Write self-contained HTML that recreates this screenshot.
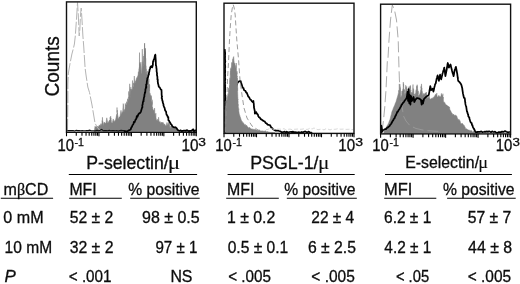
<!DOCTYPE html>
<html><head><meta charset="utf-8"><style>
html,body{margin:0;padding:0;background:#fff;}
svg{display:block;will-change:transform;}
text{font-family:"Liberation Sans", sans-serif;fill:#0d0d0d;stroke:#0d0d0d;stroke-width:0.3px;}
</style></head><body>
<svg width="520" height="284" viewBox="0 0 520 284">
<rect width="520" height="284" fill="#fff"/>
<g><polygon points="94.0,131.5 94.2,130.6 94.5,129.8 94.8,127.7 95.0,126.3 95.5,127.0 96.0,126.7 97.0,126.2 98.0,126.8 98.7,126.5 99.3,124.9 100.0,126.1 101.0,123.6 101.9,125.4 102.0,121.7 102.1,120.6 102.3,121.6 102.4,117.3 102.5,117.6 102.6,120.5 102.7,120.7 102.8,121.2 103.0,123.1 103.1,123.1 103.2,126.0 104.1,122.1 105.1,123.3 106.0,122.9 106.8,117.8 107.7,122.9 108.5,122.1 109.3,120.6 109.5,120.1 109.7,120.1 109.9,121.0 110.1,117.3 110.3,118.6 110.5,117.1 110.7,116.1 110.8,118.9 110.9,117.9 111.0,118.8 111.2,119.7 111.3,120.2 111.4,121.8 111.5,122.5 112.3,122.9 113.2,118.9 114.0,121.4 114.9,120.9 115.7,119.3 116.6,114.8 116.7,114.3 116.8,117.4 116.8,117.4 116.9,115.9 117.0,115.1 117.0,107.5 117.1,112.4 117.2,111.5 117.3,110.2 117.4,114.5 117.5,113.1 117.6,114.7 117.7,116.8 117.8,115.7 117.9,117.5 118.0,119.0 118.5,118.2 119.0,117.1 119.5,116.9 120.0,116.4 120.5,113.5 121.0,110.3 121.5,114.8 122.0,112.4 122.5,111.9 122.8,110.4 123.2,103.6 123.5,104.9 123.6,108.5 123.8,111.7 123.9,111.6 124.1,112.0 124.2,110.7 124.4,111.6 124.5,110.2 124.7,109.3 124.8,111.1 125.0,109.2 125.2,106.2 125.3,103.4 125.5,105.6 125.9,104.7 126.2,105.2 126.6,101.7 127.0,103.7 127.3,101.7 127.6,99.0 127.8,98.7 128.1,100.8 128.4,97.4 128.6,98.0 128.7,91.4 128.9,94.5 129.0,94.8 129.2,94.6 129.5,91.2 129.7,83.8 130.0,98.4 130.2,93.6 130.4,89.1 130.6,96.1 130.8,87.1 131.0,90.7 131.2,89.4 131.4,90.4 131.7,89.9 132.0,88.9 132.2,90.2 132.5,80.5 132.8,86.3 133.2,87.2 133.6,82.9 133.9,85.0 134.3,76.0 134.7,83.4 135.1,83.1 135.4,80.8 135.8,81.5 136.3,78.8 136.8,77.6 137.3,77.5 137.5,76.4 137.7,76.0 137.9,75.6 138.2,74.2 138.4,71.7 138.6,74.5 138.8,72.2 138.9,69.3 139.0,69.3 139.1,69.5 139.2,67.7 139.3,67.7 139.4,68.6 139.5,52.6 139.6,68.6 139.7,62.5 139.8,65.8 139.9,68.4 140.0,63.8 140.1,69.8 140.2,69.7 140.9,62.1 141.7,74.2 142.0,72.6 142.3,49.1 142.7,71.1 143.0,61.5 143.2,65.3 143.4,63.1 143.6,56.0 143.8,66.6 144.0,65.4 144.1,64.8 144.1,64.3 144.2,63.9 144.2,62.0 144.2,60.6 144.3,54.2 144.3,61.6 144.4,50.7 144.4,48.4 144.5,57.1 144.5,43.8 144.6,56.5 144.6,43.0 144.7,53.9 144.8,53.1 144.8,55.8 144.8,56.3 144.9,58.7 144.9,51.0 145.0,51.5 145.1,58.7 145.1,58.7 145.2,56.9 145.2,49.2 145.2,63.9 145.3,57.4 145.3,51.8 145.4,66.1 145.5,48.2 145.5,64.7 145.6,67.5 145.6,69.7 145.7,58.3 145.7,70.8 145.8,65.8 145.8,71.2 145.9,73.1 145.9,72.1 146.0,74.6 146.0,70.2 146.1,68.8 146.6,74.0 147.0,74.3 147.2,76.1 147.4,70.9 147.6,77.1 147.9,77.0 148.1,78.3 148.3,79.0 148.5,79.8 148.6,80.2 148.7,81.6 148.7,82.2 148.8,80.6 148.9,78.9 149.0,84.2 149.1,84.3 149.2,86.3 149.2,88.0 149.3,84.2 149.4,89.9 149.5,91.0 149.6,84.7 149.6,89.8 149.7,92.5 149.8,92.6 149.9,94.7 150.0,93.3 150.1,96.6 150.1,95.5 150.2,94.7 150.3,97.5 151.0,95.2 151.1,98.2 151.3,99.6 151.4,96.2 151.5,101.7 151.7,101.5 151.8,104.7 151.9,101.6 152.0,104.4 152.2,99.7 152.3,107.8 152.4,107.0 152.6,107.8 152.7,107.9 153.2,110.4 153.6,109.8 154.1,110.9 154.6,108.1 154.8,112.3 155.0,115.0 155.2,114.2 155.4,116.3 155.6,117.5 155.8,113.1 156.0,117.9 156.2,118.5 156.4,120.4 157.0,119.6 157.5,119.4 158.1,121.4 158.6,117.2 159.2,122.3 160.0,121.4 160.8,123.4 161.6,122.0 162.3,122.8 163.1,122.3 163.9,124.5 164.7,124.0 165.5,125.8 166.2,125.4 167.0,122.4 167.8,125.5 168.6,122.7 169.3,121.8 170.1,128.8 170.8,125.9 171.6,126.9 172.3,127.2 173.1,127.5 173.8,128.3 174.6,127.3 175.5,126.7 176.3,129.2 177.2,130.1 178.0,130.5 178.8,130.6 179.6,130.7 180.4,130.8 181.2,130.9 182.0,131.0 182.8,131.0 183.7,131.0 184.5,131.0 185.4,131.1 186.2,131.1 187.1,131.1 187.9,131.1 188.8,131.1 189.6,131.1 190.4,131.1 191.3,131.1 192.1,131.1 193.0,131.2 193.8,131.2 194.7,131.2 195.5,131.2" fill="#818181" stroke="#818181" stroke-width="0.5"/><polyline points="67.5,131.0 67.9,100.0 67.9,84.0 68.4,73.0 70.2,62.6 71.9,54.0 73.5,48.0 74.4,44.0 75.3,36.0 76.5,19.0 77.5,2.5 78.3,15.0 79.2,36.0 79.8,30.0 80.5,15.0 81.2,8.0 82.0,20.0 82.9,36.0 83.7,46.0 85.1,68.0 86.0,75.0 87.8,87.0 89.5,92.5 92.0,105.0 95.0,123.0 97.0,127.0 100.0,130.5" fill="none" stroke="#b4b4b4" stroke-width="1" stroke-dasharray="12 2"/><polyline points="124.0,131.9 125.1,131.2 126.4,131.3 127.7,131.2 128.6,130.4 129.7,130.1 130.7,129.5 130.9,128.6 131.5,127.2 131.9,126.9 132.5,125.2 133.2,124.5 133.6,123.5 133.8,122.0 134.5,122.4 135.0,121.1 135.3,120.1 135.9,119.4 136.4,118.5 136.8,116.1 137.5,116.7 138.1,115.0 138.6,114.0 139.2,113.4 139.8,113.1 140.5,112.3 141.0,111.3 141.5,109.5 141.9,108.4 142.1,107.4 142.4,107.2 142.3,105.2 142.7,104.3 142.8,102.8 143.2,101.2 143.6,101.2 143.4,100.2 143.7,99.9 143.8,98.2 144.2,96.8 144.4,96.6 144.4,94.9 144.8,93.6 144.9,92.3 145.2,92.6 145.4,90.5 145.4,89.6 145.8,88.3 145.8,88.8 146.0,86.6 146.3,87.3 146.1,84.7 146.7,83.7 146.7,83.9 146.8,81.7 147.1,80.1 147.3,79.5 147.3,78.1 147.7,78.1 148.0,77.3 148.4,75.3 148.4,75.2 148.9,74.7 148.9,73.2 149.3,71.5 149.4,71.4 149.6,69.5 150.2,68.8 150.3,67.1 150.8,67.2 150.9,66.3 151.4,66.3 152.1,67.4 152.5,66.6 152.4,65.6 152.9,65.1 152.9,63.3 153.1,61.2 153.4,61.5 153.8,59.4 154.1,59.2 154.4,58.4 154.7,56.7 154.9,55.6 155.1,55.3 155.3,54.7 155.5,55.8 155.4,56.4 155.5,57.0 155.6,58.3 155.8,61.0 155.7,60.9 155.8,61.2 155.8,62.7 155.9,64.5 155.8,65.3 156.2,65.8 156.3,66.9 156.4,68.0 156.3,68.0 156.6,68.8 156.6,71.2 156.7,71.6 157.1,73.9 157.1,74.0 156.9,74.2 157.1,75.8 157.4,76.7 157.4,79.5 157.6,79.0 157.8,80.0 157.7,81.9 157.9,82.1 157.9,83.2 157.9,83.1 158.6,85.4 158.6,86.2 159.1,87.1 159.8,87.5 160.7,89.4 161.5,90.0 161.5,90.7 161.6,92.1 161.6,93.1 161.6,94.1 161.8,96.3 162.1,96.4 161.6,98.0 162.0,98.6 162.3,100.3 162.3,100.8 162.7,101.0 162.8,102.7 163.1,103.3 163.5,104.6 163.5,105.5 164.2,107.3 164.5,107.6 164.8,108.9 165.0,110.0 165.6,111.1 166.0,111.4 166.4,113.9 166.6,114.9 166.8,114.8 167.3,115.6 167.7,117.0 168.3,117.1 168.4,120.3 168.9,120.5 169.2,121.3 169.7,122.1 170.4,123.1 170.9,124.1 171.7,124.9 172.2,126.1 173.0,126.9 174.2,127.4 175.5,127.3 176.5,128.1 176.8,128.5 177.5,129.7 178.4,130.5 179.7,130.9 180.5,130.3 181.6,131.1 182.8,130.8 183.7,130.7 184.9,130.6 185.9,130.8 186.8,130.1 188.0,130.7 188.9,131.2 189.9,130.9 191.2,130.9 192.1,130.2 193.1,129.3 194.0,131.4 195.1,130.3 196.0,131.0" fill="none" stroke="#000" stroke-width="1.75" stroke-linejoin="round"/></g><polyline points="67.2,130.7 68.7,130.6 70.2,130.5 71.7,130.6 73.2,130.6 74.7,131.0 76.2,130.3 77.7,130.6 79.2,130.5 80.7,130.7 82.2,130.6 83.7,130.8 85.2,130.8 86.7,130.6 88.2,130.6 89.7,130.2 91.2,130.8 92.7,130.8 94.2,130.8 95.7,130.6 97.2,130.2 98.7,130.7 100.2,130.3 101.7,129.4 103.2,130.7 104.7,130.6 106.2,130.6 107.7,130.7 109.2,130.3 110.7,130.8 112.2,130.5 113.7,130.6 115.2,130.7 116.7,130.6 118.2,131.1 119.7,130.6 121.2,130.4 122.7,130.6 124.2,130.6 125.0,130.6" fill="none" stroke="#111" stroke-width="1.1"/><rect x="66.5" y="1.9" width="129.80" height="130.40" fill="none" stroke="#111" stroke-width="1.4"/><path d="M66.50 132.30v3.9M76.27 132.30v3.4M81.98 132.30v3.4M86.04 132.30v3.4M89.18 132.30v3.4M91.75 132.30v3.4M93.92 132.30v3.4M95.81 132.30v3.4M97.47 132.30v3.4M98.95 132.30v3.9M108.72 132.30v3.4M114.43 132.30v3.4M118.49 132.30v3.4M121.63 132.30v3.4M124.20 132.30v3.4M126.37 132.30v3.4M128.26 132.30v3.4M129.92 132.30v3.4M131.40 132.30v3.9M141.17 132.30v3.4M146.88 132.30v3.4M150.94 132.30v3.4M154.08 132.30v3.4M156.65 132.30v3.4M158.82 132.30v3.4M160.71 132.30v3.4M162.37 132.30v3.4M163.85 132.30v3.9M173.62 132.30v3.4M179.33 132.30v3.4M183.39 132.30v3.4M186.53 132.30v3.4M189.10 132.30v3.4M191.27 132.30v3.4M193.16 132.30v3.4M194.82 132.30v3.4M196.30 132.30v3.9" stroke="#000" stroke-width="1.1"/><g><polyline points="225.0,133.0 225.1,132.5 224.8,131.4 225.2,129.7 225.1,128.4 225.1,128.8 225.0,127.5 225.0,125.4 225.0,124.9 225.0,124.3 225.0,123.1 225.2,122.0 225.0,121.2 224.9,119.9 225.0,119.6 224.9,117.5 224.9,116.9 224.9,116.5 225.0,115.2 225.0,113.5 225.1,113.0 225.0,111.8 224.9,110.3 225.1,110.4 224.9,109.0 224.8,108.5 225.1,106.6 224.9,106.3 225.2,104.2 224.9,104.1 225.1,103.0 225.1,100.8 224.8,101.3 224.8,100.3 225.0,99.5 224.9,99.0 225.1,97.0 224.9,95.7 225.0,94.8 225.1,93.5 225.0,93.2 225.0,92.8 224.9,91.6 224.8,90.3 225.0,89.1 224.9,87.8 224.9,86.8 224.9,85.0 224.9,84.8 225.0,83.5 225.0,83.4 225.2,81.8 225.1,81.4 225.0,80.5 225.1,78.9 225.0,77.8 225.0,77.2 225.1,75.9 225.1,74.9 225.1,74.5 224.9,73.3 224.9,71.4 225.2,71.2 225.0,69.4 224.9,68.6 225.1,67.9 225.1,67.1 225.1,65.6 225.0,65.4 224.9,64.2 225.0,62.5 225.3,61.7 225.2,60.8 225.0,60.1 224.9,59.3 225.0,58.4 225.1,56.3 225.1,56.2 225.0,55.7 225.1,54.2 225.1,52.6 224.9,51.3 224.9,51.2 224.8,49.9 224.9,51.0 224.8,52.2 225.0,53.2 225.0,54.0 224.9,55.1 225.0,54.8 225.0,56.6 224.8,58.2 225.0,58.7 225.1,59.5 225.0,60.9 225.1,61.6 225.1,62.7 224.8,64.2 225.1,64.5 225.2,66.2 225.2,67.4 225.0,67.8 225.0,69.3 224.9,70.5 225.1,71.3 225.2,71.1 225.1,73.1 225.0,73.5 225.0,75.7 225.0,74.4 225.1,76.5 225.0,77.8 225.2,78.6 225.3,79.4 225.0,80.8 225.2,82.4 225.2,82.5 225.0,83.2 225.1,85.5 225.2,85.4 225.1,87.4 225.1,87.2 225.2,89.2 225.1,90.8 225.2,90.8 225.1,92.5 224.9,93.6 225.1,94.4 225.3,95.2 225.2,95.5 225.3,97.1 225.1,97.6 225.5,98.1 225.2,99.9 225.5,100.3 225.7,101.8 225.7,103.4 225.8,104.3 226.0,104.9 226.3,105.4 226.6,106.9 226.6,106.5 226.8,108.6 227.0,110.2 227.3,109.0 227.8,108.3 228.1,106.3 228.4,105.5 228.9,105.2 229.2,104.3 229.5,103.2 230.1,102.5 230.5,102.1 230.7,100.0 231.2,99.0 231.6,99.3 231.7,96.5 232.3,95.9 232.7,95.5 232.9,95.4 233.6,93.2 233.7,92.8 234.0,90.8 234.5,89.6 235.0,89.8 235.2,88.7 235.8,87.5 236.0,86.1 236.4,85.9 236.8,84.7 237.1,84.3 237.5,82.8 238.2,82.0 239.3,81.2 240.4,80.9 240.7,81.2 241.1,82.6 241.4,83.5 241.6,84.4 242.2,86.0 242.4,87.0 242.9,87.9 243.5,88.0 243.9,89.9 244.6,90.5 245.4,90.8 246.2,92.6 246.7,92.7 247.2,93.8 247.7,95.0 248.2,96.6 248.9,97.0 249.5,98.0 250.2,99.5 250.9,99.8 251.9,101.4 252.7,102.0 253.4,101.0 253.5,102.3 253.8,103.9 253.8,104.3 253.9,106.1 254.0,106.4 254.0,107.8 254.3,108.7 254.6,110.4 254.8,110.8 254.8,112.6 254.9,113.7 256.3,112.2 256.8,113.7 257.2,113.9 257.9,114.6 258.2,116.1 259.0,117.2 259.8,117.6 260.8,119.3 261.2,119.3 262.5,120.2 263.6,121.0 264.7,121.4 265.7,122.9 266.6,123.4 267.6,124.6 268.7,124.9 270.0,125.1 270.7,126.5 271.3,127.7 272.3,128.1 272.9,129.3 274.1,129.8 275.3,130.6 276.4,130.7 277.2,130.7 278.2,130.7 279.2,131.0 280.5,131.3 281.4,132.1 282.4,132.6 283.4,132.0 284.6,131.7 285.8,132.7 286.8,131.6 287.8,132.4 288.9,132.2 289.8,132.0 291.1,131.8 292.0,132.1 293.0,131.6 294.0,132.7 295.0,132.1 296.1,132.3 296.8,132.3 298.1,132.5 299.0,132.1 300.0,133.0 301.5,132.0 302.6,132.4 304.2,131.7 305.4,131.5 307.1,132.5 308.4,131.6 309.8,132.3 311.6,132.7 312.0,132.2" fill="none" stroke="#000" stroke-width="1.75" stroke-linejoin="round"/><polygon points="224.8,132.8 224.8,132.1 224.8,131.4 224.8,131.3 224.8,129.6 224.8,129.7 224.8,128.7 224.8,127.7 224.9,126.7 224.9,126.6 224.9,125.2 224.9,124.8 224.9,122.4 224.9,123.4 224.9,123.2 224.9,121.8 224.9,121.6 224.9,120.8 224.9,120.6 224.9,119.4 224.9,118.1 224.9,117.3 224.9,116.8 224.9,116.8 224.9,115.4 225.0,114.7 225.0,114.1 225.0,113.1 225.0,110.1 225.0,111.7 225.0,109.8 225.0,110.7 225.0,110.3 225.1,109.6 225.2,106.4 225.3,107.0 225.3,106.2 225.4,106.4 225.5,105.3 225.6,105.0 225.8,100.8 226.1,102.0 226.3,102.6 226.5,101.4 226.8,100.3 227.0,99.9 227.2,99.2 227.3,96.5 227.5,96.6 227.7,97.0 227.8,96.7 228.0,93.6 228.2,94.9 228.3,94.1 228.4,90.9 228.6,88.1 228.8,91.9 228.9,90.8 229.1,90.0 229.2,89.4 229.3,87.1 229.5,87.9 229.5,85.4 229.6,86.8 229.6,85.2 229.7,82.4 229.7,82.9 229.8,83.7 229.8,80.5 229.9,82.1 229.9,77.8 230.0,80.7 230.0,79.9 230.1,79.5 230.1,78.9 230.2,78.2 230.2,77.2 230.3,75.3 230.3,75.6 230.4,71.1 230.4,74.8 230.5,74.4 230.5,72.9 230.6,68.4 230.8,69.9 230.9,70.6 231.1,68.4 231.2,67.3 231.4,68.7 231.5,68.6 231.7,62.4 231.9,66.9 232.1,65.5 232.3,62.6 232.5,64.7 232.7,60.0 232.9,58.7 233.1,62.8 233.3,57.3 233.7,56.6 234.0,60.8 234.4,64.2 234.8,63.1 235.1,65.1 235.5,65.8 235.7,66.7 235.8,67.5 236.0,67.7 236.2,64.1 236.3,63.0 236.5,70.4 236.6,71.0 236.8,72.0 236.8,72.7 236.9,73.7 236.9,74.0 237.0,71.4 237.0,72.7 237.1,73.0 237.1,76.9 237.2,76.0 237.2,76.5 237.3,79.2 237.3,80.2 237.3,80.6 237.3,77.9 237.4,82.1 237.4,80.2 237.4,83.7 237.4,84.5 237.4,82.4 237.4,85.5 237.5,86.7 237.5,87.1 237.5,86.3 237.5,86.6 237.5,87.5 237.5,90.2 237.6,90.5 237.6,90.8 237.6,87.4 237.6,93.0 237.7,92.9 237.7,93.9 237.7,94.0 237.8,95.0 237.8,95.9 237.8,96.8 237.9,97.8 237.9,98.8 237.9,99.4 237.9,99.3 238.0,100.0 238.0,99.5 238.0,100.8 238.1,101.7 238.1,101.6 238.1,103.5 238.2,105.4 238.2,104.5 238.3,106.5 238.4,107.2 238.5,107.8 238.6,108.4 238.7,109.4 238.8,108.8 238.8,110.4 238.9,111.6 239.0,112.0 239.1,112.7 239.2,113.4 239.3,114.2 239.5,114.5 239.8,115.5 240.0,116.2 240.2,117.0 240.5,117.5 240.7,118.1 240.9,119.0 241.2,119.8 241.4,120.3 241.8,121.2 242.3,121.5 242.7,122.5 243.2,122.7 243.6,122.9 244.1,124.4 244.5,124.9 245.1,124.1 245.7,125.8 246.3,125.0 247.0,125.9 247.6,127.1 248.2,127.3 248.8,128.3 249.5,127.2 250.2,127.9 250.9,128.8 251.6,129.0 252.3,128.9 253.0,129.5 253.7,129.3 254.4,129.4 255.1,129.5 255.8,129.6 256.5,130.2 257.2,129.7 257.9,130.4 258.6,130.5 259.3,130.0 260.0,130.4 260.7,131.1 261.4,130.9 262.1,131.1 262.8,130.9 263.5,131.2 264.2,131.3 264.9,131.0 265.6,130.8 266.3,131.9 267.1,131.4 267.8,131.7 268.5,131.9 269.3,132.1 270.0,132.3 270.7,132.4 271.4,132.4 272.1,132.5 272.9,132.6 273.6,132.7 274.3,132.7 275.0,132.8" fill="#818181" stroke="#818181" stroke-width="0.5"/><polyline points="225.5,132.0 226.5,110.0 227.5,80.0 228.6,60.0 229.5,40.0 230.3,27.0 231.2,15.0 232.3,8.0 233.2,4.5 234.2,8.0 235.2,15.0 235.8,25.0 236.8,40.0 238.6,60.0 240.0,80.0 242.0,95.0 244.0,108.0 247.0,118.0 252.0,126.0 258.0,130.0 265.0,132.0" fill="none" stroke="#8c8c8c" stroke-width="0.85" stroke-dasharray="5 3"/></g><polyline points="266.0,129.6 268.0,129.5 270.0,127.8 272.0,128.8 274.0,129.5 276.0,129.3 278.0,129.1 280.0,129.1 282.0,129.4 284.0,128.6 286.0,130.1 288.0,129.3 290.0,129.1 292.0,129.6 294.0,129.3 296.0,129.2 298.0,129.0 300.0,129.3 302.0,129.2 304.0,128.8 306.0,129.4 308.0,129.3 310.0,128.1 312.0,129.1 314.0,127.9 316.0,129.1 318.0,129.7 320.0,129.3 322.0,129.2 324.0,129.9 326.0,128.7 328.0,129.1 330.0,129.9 332.0,129.2 334.0,129.3 336.0,129.2 338.0,128.6 340.0,129.2 342.0,129.2 344.0,129.0 346.0,129.4 348.0,129.3 350.0,129.2 352.0,129.7 353.3,129.3" fill="none" stroke="#cfcfcf" stroke-width="0.8" stroke-dasharray="4 2"/><rect x="224.0" y="3.2" width="130.00" height="130.20" fill="none" stroke="#111" stroke-width="1.4"/><path d="M224.00 133.40v3.9M233.78 133.40v3.4M239.51 133.40v3.4M243.57 133.40v3.4M246.72 133.40v3.4M249.29 133.40v3.4M251.47 133.40v3.4M253.35 133.40v3.4M255.01 133.40v3.4M256.50 133.40v3.9M266.28 133.40v3.4M272.01 133.40v3.4M276.07 133.40v3.4M279.22 133.40v3.4M281.79 133.40v3.4M283.97 133.40v3.4M285.85 133.40v3.4M287.51 133.40v3.4M289.00 133.40v3.9M298.78 133.40v3.4M304.51 133.40v3.4M308.57 133.40v3.4M311.72 133.40v3.4M314.29 133.40v3.4M316.47 133.40v3.4M318.35 133.40v3.4M320.01 133.40v3.4M321.50 133.40v3.9M331.28 133.40v3.4M337.01 133.40v3.4M341.07 133.40v3.4M344.22 133.40v3.4M346.79 133.40v3.4M348.97 133.40v3.4M350.85 133.40v3.4M352.51 133.40v3.4M354.00 133.40v3.9" stroke="#000" stroke-width="1.1"/><g><polygon points="383.5,133.5 383.8,132.8 384.0,132.1 384.2,131.3 384.5,130.6 384.8,129.9 385.0,129.2 385.4,128.6 385.8,128.0 386.1,127.4 386.5,126.8 386.9,126.1 387.2,125.5 387.6,124.9 388.0,124.3 388.3,123.6 388.6,122.9 388.9,122.2 389.1,121.5 389.4,120.8 389.7,120.1 390.0,119.4 390.2,118.7 390.4,118.0 390.5,117.2 390.7,116.5 390.9,115.8 391.1,115.1 391.3,114.4 391.5,113.7 391.6,112.9 391.8,112.2 392.0,111.5 392.3,110.8 392.6,110.1 392.9,109.4 393.1,108.7 393.4,108.0 393.7,107.3 394.0,106.6 394.3,105.9 394.6,105.2 394.9,104.5 395.1,103.8 395.4,103.1 395.7,102.4 396.0,101.7 396.2,101.0 396.4,100.3 396.6,99.6 396.8,98.9 397.0,98.2 397.2,97.6 397.4,96.9 397.6,96.2 397.8,95.5 398.0,94.8 398.2,94.1 398.3,93.4 398.5,92.7 398.7,90.3 398.8,91.4 399.0,90.5 399.1,90.4 399.3,83.9 399.5,88.7 399.6,88.1 399.8,86.7 399.9,84.2 400.0,87.8 400.1,89.5 400.2,90.2 400.3,90.6 400.4,87.6 400.5,92.1 400.6,92.4 400.7,93.5 400.8,90.8 400.9,95.2 401.0,95.9 401.4,96.7 401.8,94.7 402.2,91.1 402.3,94.0 402.4,91.0 402.5,92.4 402.6,91.0 402.7,89.5 402.9,89.5 403.0,88.3 403.1,88.3 403.2,86.7 403.3,82.1 403.4,84.9 403.5,86.7 403.6,83.7 403.7,85.9 403.8,88.4 403.9,89.4 404.0,89.3 404.2,90.9 404.3,91.6 404.4,89.4 404.5,90.7 404.6,93.1 404.7,93.3 404.8,95.4 405.0,93.7 405.2,93.5 405.3,92.9 405.5,92.4 405.7,85.2 405.9,88.7 406.0,87.5 406.2,89.2 406.4,89.0 406.5,87.3 406.7,86.4 406.8,90.5 407.0,89.1 407.1,91.8 407.2,92.8 407.4,93.3 407.5,92.2 407.7,95.4 407.8,96.4 408.1,91.9 408.3,93.8 408.6,94.1 408.8,88.6 408.9,86.7 409.1,91.9 409.2,90.6 409.3,90.8 409.5,87.7 409.6,88.4 409.7,88.2 409.9,86.9 410.0,85.8 410.1,87.5 410.2,87.2 410.4,88.5 410.5,85.5 410.6,89.1 410.8,90.6 410.9,90.1 411.0,92.2 411.1,92.4 411.2,93.1 411.4,93.8 411.5,94.5 411.7,92.2 411.9,93.3 412.1,93.0 412.4,92.0 412.6,91.6 412.8,90.2 413.0,84.5 413.1,90.9 413.3,91.7 413.4,88.6 413.6,89.0 413.8,90.9 413.9,93.7 414.1,94.7 414.2,95.1 414.4,93.9 414.5,96.1 414.9,96.3 415.4,93.3 415.8,95.3 415.9,93.3 416.1,90.3 416.2,93.5 416.3,89.3 416.4,89.9 416.6,91.4 416.7,86.5 416.8,89.2 416.9,85.7 417.1,87.7 417.2,84.7 417.3,86.9 417.4,88.3 417.5,89.3 417.6,88.9 417.7,90.1 417.9,91.2 418.0,92.6 418.1,93.8 418.2,90.9 418.3,94.0 418.4,96.2 418.5,96.2 419.0,95.1 419.5,94.7 420.0,93.2 420.1,92.6 420.3,92.8 420.4,91.9 420.5,91.0 420.6,90.3 420.8,89.7 420.9,89.2 421.0,86.5 421.1,87.9 421.3,85.6 421.4,84.7 421.5,83.9 421.6,84.8 421.7,89.8 421.8,88.0 421.9,90.0 422.0,91.0 422.2,90.9 422.3,91.5 422.4,92.1 422.5,94.2 422.6,94.6 422.7,94.6 422.8,96.0 423.4,93.4 424.0,94.7 424.4,93.8 424.8,94.0 425.1,93.1 425.5,93.1 425.7,92.8 425.9,93.0 426.1,94.1 426.2,95.3 426.4,92.0 426.6,97.0 426.8,97.3 427.0,98.5 427.8,97.2 428.5,97.9 429.0,95.6 429.5,97.9 430.0,99.1 430.8,99.2 431.6,98.3 432.4,98.6 433.2,97.3 433.5,98.9 433.7,97.8 434.0,96.9 434.2,97.1 434.5,95.9 435.0,95.4 435.5,94.4 436.0,94.3 436.4,94.9 436.8,93.1 437.1,96.5 437.5,97.0 438.0,96.8 438.5,95.7 439.0,95.4 439.4,96.1 439.9,96.9 440.3,96.9 440.9,96.1 441.4,93.4 442.0,94.9 442.8,95.8 442.9,93.7 443.0,97.7 443.1,98.4 443.2,98.5 443.3,97.0 443.4,100.0 443.5,100.8 443.6,101.4 444.0,102.4 444.4,102.2 444.9,102.7 445.3,103.9 445.7,104.2 446.1,105.0 446.8,105.1 447.4,105.8 448.1,106.2 448.7,106.6 449.0,106.4 449.3,107.7 449.5,107.0 449.8,109.5 450.1,109.8 450.4,110.9 450.8,110.8 451.2,112.4 451.6,112.6 452.1,113.6 452.5,113.8 452.9,115.0 453.6,114.1 454.3,115.8 454.9,114.9 455.6,115.2 456.3,115.9 456.6,115.7 457.0,116.8 457.3,118.2 457.7,118.3 458.0,119.9 458.5,120.2 458.9,119.0 459.4,120.7 459.9,120.3 460.4,122.2 460.8,123.6 461.3,123.7 462.1,123.2 463.0,124.0 463.4,124.9 463.7,125.2 464.1,125.3 464.5,126.1 464.9,126.9 465.2,127.3 465.6,129.1 466.4,128.8 467.1,129.0 467.9,129.9 468.7,130.0 469.4,130.2 470.2,130.5 471.0,130.9 471.8,130.6 472.5,132.3 473.2,131.8 474.0,130.8 474.8,132.0 475.5,132.2 476.2,132.4 477.0,132.6 477.8,132.8 478.5,132.9 479.2,133.1 480.0,133.3" fill="#818181" stroke="#818181" stroke-width="0.5"/><polyline points="382.0,132.0 383.5,120.0 384.7,108.0 386.0,90.0 387.4,60.0 387.9,60.0 389.0,40.0 390.5,20.0 392.3,5.0 394.5,10.0 396.5,20.0 398.2,40.0 398.9,65.0 399.4,80.0 401.0,100.0 403.5,116.0 406.0,121.0 410.0,125.7 416.0,128.5 425.0,130.5 440.0,131.5" fill="none" stroke="#9c9c9c" stroke-width="0.85" stroke-dasharray="11 4"/><polyline points="381.2,133.5 381.3,132.3 381.3,131.6 381.4,130.5 381.3,129.1 381.4,128.0 381.3,127.0 381.3,126.1 381.3,125.6 381.5,126.6 381.6,127.6 381.8,128.6 381.9,129.1 382.0,130.4 382.1,131.9 383.0,130.2 383.9,129.8 384.9,129.2 385.9,129.1 386.8,128.0 388.0,127.4 388.5,126.9 389.5,126.1 389.9,125.3 390.8,124.2 391.3,123.5 392.1,122.0 392.7,120.9 393.2,120.4 393.7,119.0 394.2,118.6 394.6,118.1 395.3,116.0 395.8,115.6 396.2,114.4 396.7,113.4 397.4,111.6 397.9,111.6 398.5,110.3 399.1,109.5 399.6,108.9 400.2,107.6 401.0,106.4 401.4,105.2 402.1,104.4 402.5,103.3 403.3,102.8 404.2,101.5 404.8,100.4 405.6,99.7 406.3,98.4 406.8,97.5 406.9,96.4 407.1,95.3 407.2,94.2 407.4,93.1 407.5,92.0 407.6,93.0 407.6,94.0 407.7,95.0 407.8,96.0 407.8,97.0 407.9,98.0 408.0,99.0 408.0,100.0 408.1,101.0 408.1,100.0 408.2,99.0 408.2,98.0 408.3,97.0 408.3,96.0 408.4,95.0 408.4,94.0 408.4,93.0 408.5,92.0 408.5,91.0 408.6,90.0 408.6,89.0 408.6,90.0 408.7,91.0 408.7,92.0 408.8,93.0 408.8,94.0 408.9,95.0 408.9,96.0 408.9,97.0 409.0,98.0 409.0,99.0 409.1,100.0 409.1,101.0 409.2,102.0 409.2,103.0 409.3,102.0 409.4,101.0 409.4,100.0 409.5,99.0 409.6,98.0 409.6,97.0 409.7,96.0 409.8,95.0 409.9,96.1 409.9,97.1 410.0,98.2 410.1,99.3 410.1,100.3 410.2,101.4 410.3,102.5 410.3,103.5 410.4,104.6 410.5,103.5 410.5,102.4 410.6,101.4 410.7,100.3 410.8,99.2 410.9,98.2 410.9,97.1 411.0,96.0 411.2,97.0 411.3,98.0 411.5,99.0 411.6,100.0 411.8,101.0 412.5,99.7 413.0,98.3 413.5,97.0 413.7,98.0 413.8,99.0 414.0,100.0 414.1,101.0 414.3,102.0 414.9,100.8 415.4,99.7 416.2,98.8 417.0,98.0 418.2,98.3 419.4,98.7 420.2,99.3 421.0,100.0 421.1,101.2 421.3,102.3 421.5,103.4 421.6,104.6 421.8,103.3 422.1,102.0 422.3,100.7 422.6,102.1 423.0,103.5 423.2,102.4 423.5,101.2 423.8,100.1 424.0,99.0 424.8,98.2 425.5,97.5 426.3,96.7 427.1,96.1 428.0,95.5 428.8,94.8 429.0,93.7 429.2,92.7 429.4,91.6 429.6,90.5 429.7,89.4 429.9,88.3 430.1,87.3 430.3,86.2 430.6,87.5 430.8,88.8 431.1,90.1 431.9,89.3 432.7,88.6 432.9,89.6 433.2,90.7 433.4,91.7 433.6,90.7 433.9,89.7 434.1,88.7 434.3,87.7 434.5,86.7 434.8,85.7 435.0,84.7 435.8,83.1 436.0,81.8 436.3,80.6 436.5,79.3 436.8,78.3 437.1,77.3 437.3,76.4 437.6,75.4 437.9,76.5 438.1,77.6 438.4,78.6 438.6,79.7 438.9,80.8 439.1,79.8 439.3,78.7 439.5,77.7 439.7,76.7 439.9,75.6 440.1,74.6 440.4,75.8 440.6,76.9 440.9,78.1 441.2,79.3 441.4,78.3 441.7,77.2 441.9,76.2 442.2,75.2 442.4,74.1 442.7,73.1 443.0,72.0 443.3,70.9 443.7,69.8 444.0,68.7 444.3,67.6 444.4,68.7 444.6,69.8 444.7,70.8 444.9,71.9 445.0,73.0 445.1,74.0 445.3,75.1 445.4,76.2 445.6,75.2 445.8,74.1 446.0,73.1 446.2,72.1 446.4,71.0 446.6,70.0 446.8,69.0 446.9,68.0 447.1,67.0 447.3,66.0 447.5,65.0 447.6,64.0 447.8,63.0 448.1,64.2 448.4,65.3 448.6,66.4 448.9,67.6 449.4,66.6 450.0,65.5 450.5,64.5 450.8,65.5 451.0,66.6 451.2,67.6 451.5,68.6 451.8,69.7 452.0,70.7 452.3,71.8 452.6,72.9 453.0,74.0 453.3,75.1 453.6,76.2 453.8,75.2 454.0,74.1 454.1,73.1 454.3,72.1 454.5,71.0 454.7,70.0 455.1,69.0 455.5,67.9 455.9,66.9 456.1,67.9 456.3,69.0 456.5,70.0 456.7,71.0 456.9,72.1 457.1,73.1 457.3,74.2 457.4,75.3 457.6,76.4 457.7,77.5 457.9,78.6 458.0,79.7 458.2,80.8 459.0,81.6 459.8,82.4 460.6,83.6 461.3,84.7 461.6,85.8 461.9,86.9 462.2,88.0 462.3,89.0 462.5,90.1 462.6,91.1 462.8,92.2 462.9,93.2 463.2,94.4 463.4,95.6 463.7,96.7 464.0,97.9 464.7,98.1 464.9,99.3 465.0,100.5 465.1,101.7 465.3,102.5 465.4,103.9 465.6,104.7 466.0,106.1 466.3,106.9 466.3,107.4 466.5,108.6 466.7,110.0 466.9,111.4 467.2,111.6 467.5,113.1 468.0,114.3 468.2,114.5 468.3,116.3 468.8,117.0 469.3,117.4 469.5,119.0 469.9,120.0 470.2,121.1 470.5,122.0 471.1,122.8 471.7,123.0 471.9,124.9 472.5,125.3 472.8,126.9 473.2,127.7 473.8,128.5 474.3,129.5 475.0,130.9 475.9,132.2 476.9,132.2 477.8,131.9 479.0,131.8 480.0,131.9 480.9,131.4 482.1,132.0 482.9,132.0 484.0,131.9 485.0,131.7 485.9,131.9 487.1,131.4 487.9,131.9 489.1,131.3 490.0,131.8 491.0,132.2 492.1,131.4 493.0,131.8 493.9,132.0 495.0,131.7 496.2,132.7 497.5,132.8 499.0,132.0 500.4,132.4 502.0,131.6 503.5,131.9 505.0,131.1 506.4,131.8 508.0,132.4 509.4,132.1 509.9,132.3" fill="none" stroke="#000" stroke-width="1.75" stroke-linejoin="round"/></g><rect x="380.6" y="4.2" width="130.00" height="129.70" fill="none" stroke="#111" stroke-width="1.4"/><path d="M380.60 133.90v3.9M390.38 133.90v3.4M396.11 133.90v3.4M400.17 133.90v3.4M403.32 133.90v3.4M405.89 133.90v3.4M408.07 133.90v3.4M409.95 133.90v3.4M411.61 133.90v3.4M413.10 133.90v3.9M422.88 133.90v3.4M428.61 133.90v3.4M432.67 133.90v3.4M435.82 133.90v3.4M438.39 133.90v3.4M440.57 133.90v3.4M442.45 133.90v3.4M444.11 133.90v3.4M445.60 133.90v3.9M455.38 133.90v3.4M461.11 133.90v3.4M465.17 133.90v3.4M468.32 133.90v3.4M470.89 133.90v3.4M473.07 133.90v3.4M474.95 133.90v3.4M476.61 133.90v3.4M478.10 133.90v3.9M487.88 133.90v3.4M493.61 133.90v3.4M497.67 133.90v3.4M500.82 133.90v3.4M503.39 133.90v3.4M505.57 133.90v3.4M507.45 133.90v3.4M509.11 133.90v3.4M510.60 133.90v3.9" stroke="#000" stroke-width="1.1"/><line x1="68.8" y1="174.5" x2="197.1" y2="174.5" stroke="#000" stroke-width="1.1"/><line x1="227.6" y1="174.5" x2="354.7" y2="174.5" stroke="#000" stroke-width="1.1"/><line x1="385.0" y1="174.5" x2="511.9" y2="174.5" stroke="#000" stroke-width="1.1"/><line x1="0.8" y1="198.3" x2="53.1" y2="198.3" stroke="#000" stroke-width="1.1"/><line x1="69.2" y1="198.3" x2="121.8" y2="198.3" stroke="#000" stroke-width="1.1"/><line x1="130.2" y1="198.3" x2="199.7" y2="198.3" stroke="#000" stroke-width="1.1"/><line x1="226.2" y1="198.3" x2="278.8" y2="198.3" stroke="#000" stroke-width="1.1"/><line x1="286.8" y1="198.3" x2="356.8" y2="198.3" stroke="#000" stroke-width="1.1"/><line x1="384.2" y1="198.3" x2="436.3" y2="198.3" stroke="#000" stroke-width="1.1"/><line x1="447.1" y1="198.3" x2="515.7" y2="198.3" stroke="#000" stroke-width="1.1"/>
<text x="57.46" y="151.4" font-size="16" textLength="16.57" lengthAdjust="spacingAndGlyphs">10</text><text x="74.39" y="145.9" font-size="11.5" textLength="9.43" lengthAdjust="spacingAndGlyphs">-1</text><text x="181.53" y="151.4" font-size="16" textLength="17.01" lengthAdjust="spacingAndGlyphs">10</text><text x="198.28" y="145.9" font-size="11.5" textLength="7.66" lengthAdjust="spacingAndGlyphs">3</text><text x="215.27" y="151.4" font-size="16" textLength="16.46" lengthAdjust="spacingAndGlyphs">10</text><text x="232.39" y="145.9" font-size="11.5" textLength="9.43" lengthAdjust="spacingAndGlyphs">-1</text><text x="338.34" y="151.4" font-size="16" textLength="16.79" lengthAdjust="spacingAndGlyphs">10</text><text x="355.17" y="145.9" font-size="11.5" textLength="7.79" lengthAdjust="spacingAndGlyphs">3</text><text x="372.27" y="151.4" font-size="16" textLength="16.46" lengthAdjust="spacingAndGlyphs">10</text><text x="389.39" y="145.9" font-size="11.5" textLength="9.43" lengthAdjust="spacingAndGlyphs">-1</text><text x="495.66" y="151.4" font-size="16" textLength="16.57" lengthAdjust="spacingAndGlyphs">10</text><text x="512.41" y="145.9" font-size="11.5" textLength="7.41" lengthAdjust="spacingAndGlyphs">3</text><text x="86.28" y="169.4" font-size="17.8" textLength="82.49" lengthAdjust="spacingAndGlyphs">P-selectin/</text><text x="167.73" y="169.4" font-size="17.8" textLength="12.47" lengthAdjust="spacingAndGlyphs" style="stroke-width:0.1px"><tspan font-family="Liberation Serif">μ</tspan></text><text x="250.17" y="169.4" font-size="17.8" textLength="68.43" lengthAdjust="spacingAndGlyphs">PSGL-1/</text><text x="318.00" y="169.4" font-size="17.8" textLength="11.37" lengthAdjust="spacingAndGlyphs" style="stroke-width:0.1px"><tspan font-family="Liberation Serif">μ</tspan></text><text x="405.22" y="168.0" font-size="16.4" textLength="73.84" lengthAdjust="spacingAndGlyphs">E-selectin/</text><text x="478.20" y="168.0" font-size="16.4" textLength="9.86" lengthAdjust="spacingAndGlyphs" style="stroke-width:0.1px"><tspan font-family="Liberation Serif">μ</tspan></text><text x="3.53" y="195.0" font-size="16" textLength="44.72" lengthAdjust="spacingAndGlyphs">m<tspan font-family="Liberation Serif">β</tspan>CD</text><text x="69.42" y="195.0" font-size="16" textLength="27.17" lengthAdjust="spacingAndGlyphs">MFI</text><text x="128.24" y="195.0" font-size="15.6" textLength="71.34" lengthAdjust="spacingAndGlyphs">% positive</text><text x="227.01" y="195.0" font-size="16" textLength="27.39" lengthAdjust="spacingAndGlyphs">MFI</text><text x="284.24" y="195.0" font-size="15.6" textLength="71.24" lengthAdjust="spacingAndGlyphs">% positive</text><text x="384.06" y="195.0" font-size="16" textLength="28.28" lengthAdjust="spacingAndGlyphs">MFI</text><text x="443.04" y="195.0" font-size="15.6" textLength="71.45" lengthAdjust="spacingAndGlyphs">% positive</text><text x="3.31" y="222.6" font-size="16" textLength="40.25" lengthAdjust="spacingAndGlyphs">0 mM</text><text x="4.61" y="252.8" font-size="16" textLength="47.49" lengthAdjust="spacingAndGlyphs">10 mM</text><text x="4.43" y="282.0" font-size="16" textLength="11.28" lengthAdjust="spacingAndGlyphs"><tspan font-style="italic">P</tspan></text><text x="69.75" y="222.6" font-size="16" textLength="43.59" lengthAdjust="spacingAndGlyphs">52 ± 2</text><text x="69.63" y="252.8" font-size="16" textLength="43.82" lengthAdjust="spacingAndGlyphs">32 ± 2</text><text x="68.75" y="282.0" font-size="16" textLength="42.81" lengthAdjust="spacingAndGlyphs">&lt; .001</text><text x="142.02" y="222.6" font-size="16" textLength="57.66" lengthAdjust="spacingAndGlyphs">98 ± 0.5</text><text x="155.46" y="252.8" font-size="16" textLength="41.93" lengthAdjust="spacingAndGlyphs">97 ± 1</text><text x="170.41" y="282.0" font-size="16" textLength="22.05" lengthAdjust="spacingAndGlyphs">NS</text><text x="226.98" y="222.6" font-size="16" textLength="48.29" lengthAdjust="spacingAndGlyphs">1 ± 0.2</text><text x="227.63" y="252.8" font-size="16" textLength="60.58" lengthAdjust="spacingAndGlyphs">0.5 ± 0.1</text><text x="228.15" y="282.0" font-size="16" textLength="42.75" lengthAdjust="spacingAndGlyphs">&lt; .005</text><text x="311.34" y="222.6" font-size="16" textLength="42.89" lengthAdjust="spacingAndGlyphs">22 ± 4</text><text x="307.91" y="252.8" font-size="16" textLength="47.99" lengthAdjust="spacingAndGlyphs">6 ± 2.5</text><text x="311.34" y="282.0" font-size="16" textLength="43.47" lengthAdjust="spacingAndGlyphs">&lt; .005</text><text x="384.02" y="222.6" font-size="16" textLength="47.23" lengthAdjust="spacingAndGlyphs">6.2 ± 1</text><text x="384.36" y="252.8" font-size="16" textLength="46.89" lengthAdjust="spacingAndGlyphs">4.2 ± 1</text><text x="395.88" y="282.0" font-size="16" textLength="33.22" lengthAdjust="spacingAndGlyphs">&lt; .05</text><text x="467.65" y="222.6" font-size="16" textLength="43.59" lengthAdjust="spacingAndGlyphs">57 ± 7</text><text x="468.05" y="252.8" font-size="16" textLength="44.05" lengthAdjust="spacingAndGlyphs">44 ± 8</text><text x="467.74" y="282.0" font-size="16" textLength="43.37" lengthAdjust="spacingAndGlyphs">&lt; .005</text><text transform="translate(59.4,96.49) rotate(-90)" font-size="19.8" textLength="60.25" lengthAdjust="spacingAndGlyphs">Counts</text>
</svg>
</body></html>
